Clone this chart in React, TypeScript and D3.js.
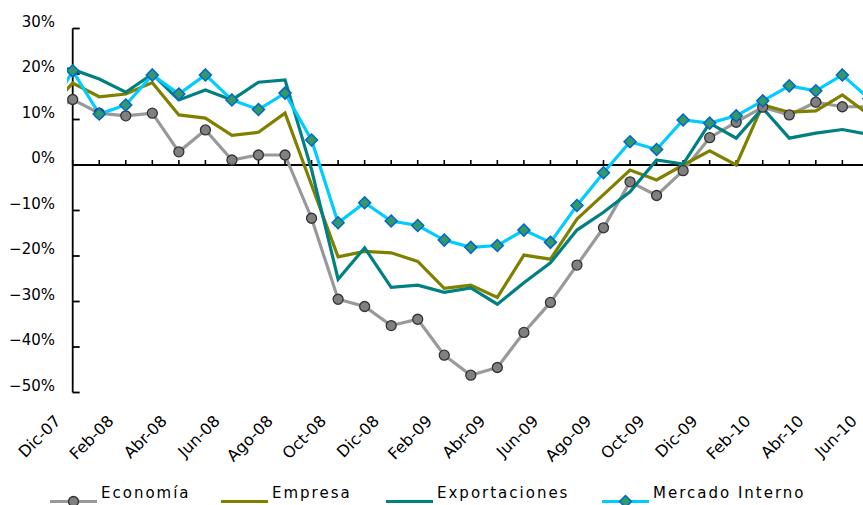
import React from "react";
import * as d3 from "d3";

const months = [
  "Nov-07", "Dic-07",
  "Ene-08", "Feb-08", "Mar-08", "Abr-08", "May-08", "Jun-08", "Jul-08", "Ago-08", "Sep-08", "Oct-08", "Nov-08", "Dic-08",
  "Ene-09", "Feb-09", "Mar-09", "Abr-09", "May-09", "Jun-09", "Jul-09", "Ago-09", "Sep-09", "Oct-09", "Nov-09", "Dic-09",
  "Ene-10", "Feb-10", "Mar-10", "Abr-10", "May-10", "Jun-10",
];

const tickLabels = [
  "Dic-07", "Feb-08", "Abr-08", "Jun-08", "Ago-08", "Oct-08", "Dic-08", "Feb-09",
  "Abr-09", "Jun-09", "Ago-09", "Oct-09", "Dic-09", "Feb-10", "Abr-10", "Jun-10",
];

const yTicks = [-50, -40, -30, -20, -10, 0, 10, 20, 30];

const economia = [11, 14.4, 11.4, 10.8, 11.4, 2.9, 7.7, 1.1, 2.2, 2.2, -11.7, -29.5, -31.1, -35.3, -33.9, -41.8, -46.2, -44.5, -36.8, -30.2, -22.0, -13.8, -3.7, -6.7, -1.25, 6.0, 9.4, 12.7, 11.0, 13.8, 12.8, 12.8];
const empresa = [11.5, 18.0, 15.0, 15.6, 18.1, 11.0, 10.3, 6.5, 7.2, 11.4, -4.4, -20.2, -19.0, -19.3, -21.2, -27.1, -26.4, -29.1, -19.8, -20.7, -11.9, -6.5, -1.1, -3.3, 0, 3.1, 0, 13.2, 11.6, 11.9, 15.4, 11.1];
const exportaciones = [21.5, 21.0, 18.9, 16.0, 20.0, 14.3, 16.5, 14.3, 18.2, 18.7, -1.0, -25.1, -18.2, -26.9, -26.4, -28.0, -27.0, -30.6, -25.9, -21.5, -14.3, -10.4, -5.9, 1.1, 0.2, 9.2, 5.9, 12.5, 5.9, 7.0, 7.8, 6.7];
const mercadoInterno = [10.5, 20.7, 11.2, 13.2, 19.8, 15.6, 19.8, 14.3, 12.2, 15.8, 5.5, -12.7, -8.3, -12.3, -13.3, -16.5, -18.1, -17.7, -14.3, -17.0, -8.9, -1.7, 5.1, 3.4, 9.9, 9.2, 10.8, 14.1, 17.4, 16.3, 19.8, 14.6];

const seriesNames = ["Economía", "Empresa", "Exportaciones", "Mercado Interno"];

const W = 863;
const H = 505;
const FONT = "'DejaVu Sans', Verdana, sans-serif";

export default function App() {
  const step = 26.54;
  const x0 = 72.7;
  const x = d3
    .scalePoint<string>()
    .domain(months)
    .range([x0 - step, x0 + step * (months.length - 2)])
    .padding(0);
  const y = d3.scaleLinear().domain([-50, 30]).range([392.5, 28.5]);
  const fmt = (v: number) => d3.format("d")(v) + "%";

  const line = d3
    .line<number>()
    .x((_, i) => x(months[i]) as number)
    .y((d) => y(d));

  const series = [
    { name: seriesNames[0], data: economia, color: "#999999", marker: "circle" },
    { name: seriesNames[1], data: empresa, color: "#808000", marker: "none" },
    { name: seriesNames[2], data: exportaciones, color: "#008080", marker: "none" },
    { name: seriesNames[3], data: mercadoInterno, color: "#00CCFF", marker: "diamond" },
  ];

  const axisX = x(months[1]) as number;
  const zeroY = y(0);
  const legendStarts = [50, 221, 386, 602];
  const legendLineLen = 47;
  const legendY = 501.5;

  const drawMarker = (kind: string, cx: number, cy: number, key: string | number) => {
    if (kind === "circle") {
      return <circle key={key} cx={cx} cy={cy} r={5} fill="#808080" stroke="#333333" strokeWidth={1.3} />;
    }
    if (kind === "diamond") {
      const s = 6;
      return (
        <path
          key={key}
          d={`M${cx},${cy - s}L${cx + s},${cy}L${cx},${cy + s}L${cx - s},${cy}Z`}
          fill="#339966"
          stroke="#0066CC"
          strokeWidth={1.5}
        />
      );
    }
    return null;
  };

  return (
    <svg
      width={W}
      height={H}
      style={{ position: "absolute", left: 0, top: 0, background: "#ffffff" }}
      fontFamily={FONT}
    >
      <defs>
        <clipPath id="plotClip">
          <rect x={67} y={0} width={W - 67} height={H} />
        </clipPath>
      </defs>

      {/* Y axis */}
      <line x1={axisX} x2={axisX} y1={y(30)} y2={y(-50)} stroke="#000" strokeWidth={1.8} />
      {yTicks.map((t) => (
        <g key={t}>
          <line x1={axisX} x2={axisX + 7} y1={y(t)} y2={y(t)} stroke="#000" strokeWidth={1.8} />
          <text x={55} y={y(t) - 2} textAnchor="end" fontSize={15} fill="#000">
            {fmt(t)}
          </text>
        </g>
      ))}

      {/* X axis */}
      <line x1={axisX} x2={W} y1={zeroY} y2={zeroY} stroke="#000" strokeWidth={1.8} />
      {months.slice(1).map((m) => (
        <line
          key={m}
          x1={x(m) as number}
          x2={x(m) as number}
          y1={zeroY - 5}
          y2={zeroY}
          stroke="#000"
          strokeWidth={1.6}
        />
      ))}
      {tickLabels.map((m) => {
        const tx = (x(m) as number) - 11;
        const ty = 422;
        return (
          <text
            key={m}
            x={tx}
            y={ty}
            textAnchor="end"
            fontSize={16}
            fill="#000"
            transform={`rotate(-45 ${tx} ${ty})`}
          >
            {m}
          </text>
        );
      })}

      {/* Series */}
      <g clipPath="url(#plotClip)">
        {series.map((s) => (
          <path
            key={s.name}
            d={line(s.data) || ""}
            fill="none"
            stroke={s.color}
            strokeWidth={3.2}
            strokeLinejoin="miter"
          />
        ))}
        {series.map((s) =>
          s.data.map((d, i) =>
            i === 0 ? null : drawMarker(s.marker, x(months[i]) as number, y(d), `${s.name}-${i}`)
          )
        )}
      </g>

      {/* Legend */}
      {series.map((s, i) => {
        const lx = legendStarts[i];
        return (
          <g key={s.name}>
            <line
              x1={lx}
              x2={lx + legendLineLen}
              y1={legendY}
              y2={legendY}
              stroke={s.color}
              strokeWidth={3.2}
            />
            {drawMarker(s.marker, lx + legendLineLen / 2, legendY, "lm" + i)}
            <text x={lx + legendLineLen + 4} y={498} fontSize={15} letterSpacing={2} fill="#000">
              {s.name}
            </text>
          </g>
        );
      })}
    </svg>
  );
}
